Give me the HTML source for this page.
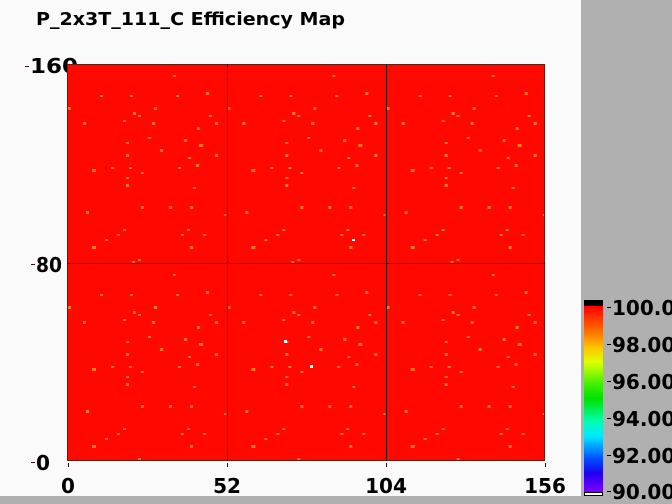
<!DOCTYPE html>
<html><head><meta charset="utf-8"><style>
html,body{margin:0;padding:0;width:672px;height:504px;overflow:hidden;background:#b0b0b0;font-family:"DejaVu Sans","Liberation Sans",sans-serif;}
</style></head><body>
<svg width="672" height="504" xmlns="http://www.w3.org/2000/svg" style="position:absolute;left:0;top:0">
<rect x="0" y="0" width="672" height="504" fill="#b0b0b0"/>
<rect x="0" y="0" width="581" height="496" fill="#fafafa"/>
<g font-family="DejaVu Sans" font-weight="bold" font-size="20" fill="#000">
<text x="30" y="73" textLength="48" lengthAdjust="spacingAndGlyphs">160</text>
</g>
<text x="36" y="25" font-family="DejaVu Sans" font-weight="bold" font-size="18" fill="#000" textLength="309" lengthAdjust="spacingAndGlyphs">P_2x3T_111_C Efficiency Map</text>
<defs>
<pattern id="p" x="67" y="64" width="159.33" height="199" patternUnits="userSpaceOnUse">
<rect width="160" height="199" fill="#ff0800"/>
<g fill="#f7791c">
<rect x="106" y="11" width="3" height="2"/><rect x="33" y="31" width="3" height="2"/><rect x="63" y="31" width="3" height="2"/><rect x="109" y="31" width="3" height="2"/><rect x="139" y="28" width="3" height="3"/><rect x="1" y="43" width="3" height="3"/><rect x="87" y="43" width="3" height="3"/><rect x="66" y="48" width="3" height="3"/><rect x="71" y="51" width="3" height="2"/><rect x="142" y="51" width="3" height="2"/><rect x="16" y="58" width="3" height="3"/><rect x="56" y="56" width="3" height="2"/><rect x="85" y="58" width="3" height="3"/><rect x="130" y="63" width="3" height="3"/><rect x="148" y="58" width="3" height="3"/><rect x="81" y="73" width="3" height="2"/><rect x="117" y="75" width="3" height="3"/><rect x="59" y="78" width="3" height="2"/><rect x="132" y="80" width="4" height="3"/><rect x="59" y="90" width="3" height="3"/><rect x="93" y="85" width="3" height="3"/><rect x="148" y="90" width="3" height="3"/><rect x="121" y="93" width="3" height="2"/><rect x="25" y="105" width="4" height="3"/><rect x="44" y="103" width="3" height="2"/><rect x="62" y="103" width="3" height="2"/><rect x="111" y="103" width="3" height="2"/><rect x="129" y="100" width="3" height="3"/><rect x="74" y="108" width="3" height="2"/><rect x="59" y="113" width="3" height="2"/><rect x="59" y="120" width="3" height="3"/><rect x="126" y="123" width="3" height="2"/><rect x="74" y="142" width="3" height="3"/><rect x="102" y="142" width="3" height="3"/><rect x="123" y="142" width="3" height="3"/><rect x="19" y="147" width="3" height="3"/><rect x="157" y="150" width="3" height="2"/><rect x="56" y="165" width="3" height="2"/><rect x="120" y="165" width="3" height="2"/><rect x="50" y="170" width="3" height="2"/><rect x="114" y="170" width="3" height="2"/><rect x="136" y="170" width="3" height="2"/><rect x="38" y="175" width="3" height="2"/><rect x="25" y="182" width="4" height="3"/><rect x="123" y="182" width="3" height="3"/><rect x="71" y="195" width="3" height="2"/><rect x="65" y="197" width="3" height="2"/>
</g>
</pattern>
<linearGradient id="cb" x1="0" y1="0" x2="0" y2="1">
<stop offset="0" stop-color="#ff0000"/><stop offset="0.12" stop-color="#ff6000"/><stop offset="0.22" stop-color="#ffc000"/><stop offset="0.3" stop-color="#e0ff00"/><stop offset="0.42" stop-color="#40f000"/><stop offset="0.5" stop-color="#00e000"/><stop offset="0.62" stop-color="#00ffb0"/><stop offset="0.7" stop-color="#00e8ff"/><stop offset="0.82" stop-color="#0050ff"/><stop offset="0.9" stop-color="#2000f0"/><stop offset="1" stop-color="#8000ff"/>
</linearGradient>
</defs>
<rect x="67" y="64" width="478" height="397" fill="url(#p)"/>
<rect x="284" y="340" width="3" height="3" fill="#fff"/><rect x="310" y="365" width="3" height="3" fill="#fff"/><rect x="352" y="239" width="3" height="2" fill="#fff"/>
<rect x="67.5" y="64.5" width="477" height="396" fill="none" stroke="#6a1a10" stroke-width="1"/>
<g stroke="#301010" stroke-width="1">
<line x1="227.5" y1="64" x2="227.5" y2="461"/><line x1="386.5" y1="64" x2="386.5" y2="461"/><line x1="67" y1="263.5" x2="545" y2="263.5"/>
<line x1="68.5" y1="463" x2="68.5" y2="467"/><line x1="227.5" y1="463" x2="227.5" y2="467"/><line x1="386.5" y1="463" x2="386.5" y2="467"/><line x1="545.5" y1="463" x2="545.5" y2="467"/>
<line x1="25" y1="66.5" x2="29" y2="66.5"/><line x1="31" y1="264.5" x2="35" y2="264.5"/><line x1="31" y1="462.5" x2="35" y2="462.5"/>
</g>
<g font-family="DejaVu Sans" font-weight="bold" font-size="20" fill="#000">
<text x="36" y="272" textLength="26" lengthAdjust="spacingAndGlyphs">80</text><text x="36" y="470" textLength="14" lengthAdjust="spacingAndGlyphs">0</text>
<text x="68" y="493" text-anchor="middle">0</text><text x="227" y="493" text-anchor="middle">52</text><text x="386" y="493" text-anchor="middle">104</text><text x="545" y="493" text-anchor="middle">156</text>
</g>
<rect x="584" y="300" width="19" height="6" fill="#000"/>
<rect x="584" y="306" width="19" height="186" fill="url(#cb)"/>
<rect x="584.5" y="492.5" width="18" height="3" fill="#fff" stroke="#000"/>
<g stroke="#000"><line x1="607" y1="307.5" x2="611" y2="307.5"/><line x1="607" y1="344.5" x2="611" y2="344.5"/><line x1="607" y1="381.5" x2="611" y2="381.5"/><line x1="607" y1="418.5" x2="611" y2="418.5"/><line x1="607" y1="455.5" x2="611" y2="455.5"/><line x1="607" y1="491.5" x2="611" y2="491.5"/></g>
<g font-family="DejaVu Sans" font-weight="bold" font-size="20" fill="#000">
<text x="612" y="315">100.00</text><text x="612" y="352">98.00</text><text x="612" y="389">96.00</text><text x="612" y="426">94.00</text><text x="612" y="463">92.00</text><text x="612" y="499">90.00</text>
</g>
</svg>
</body></html>
